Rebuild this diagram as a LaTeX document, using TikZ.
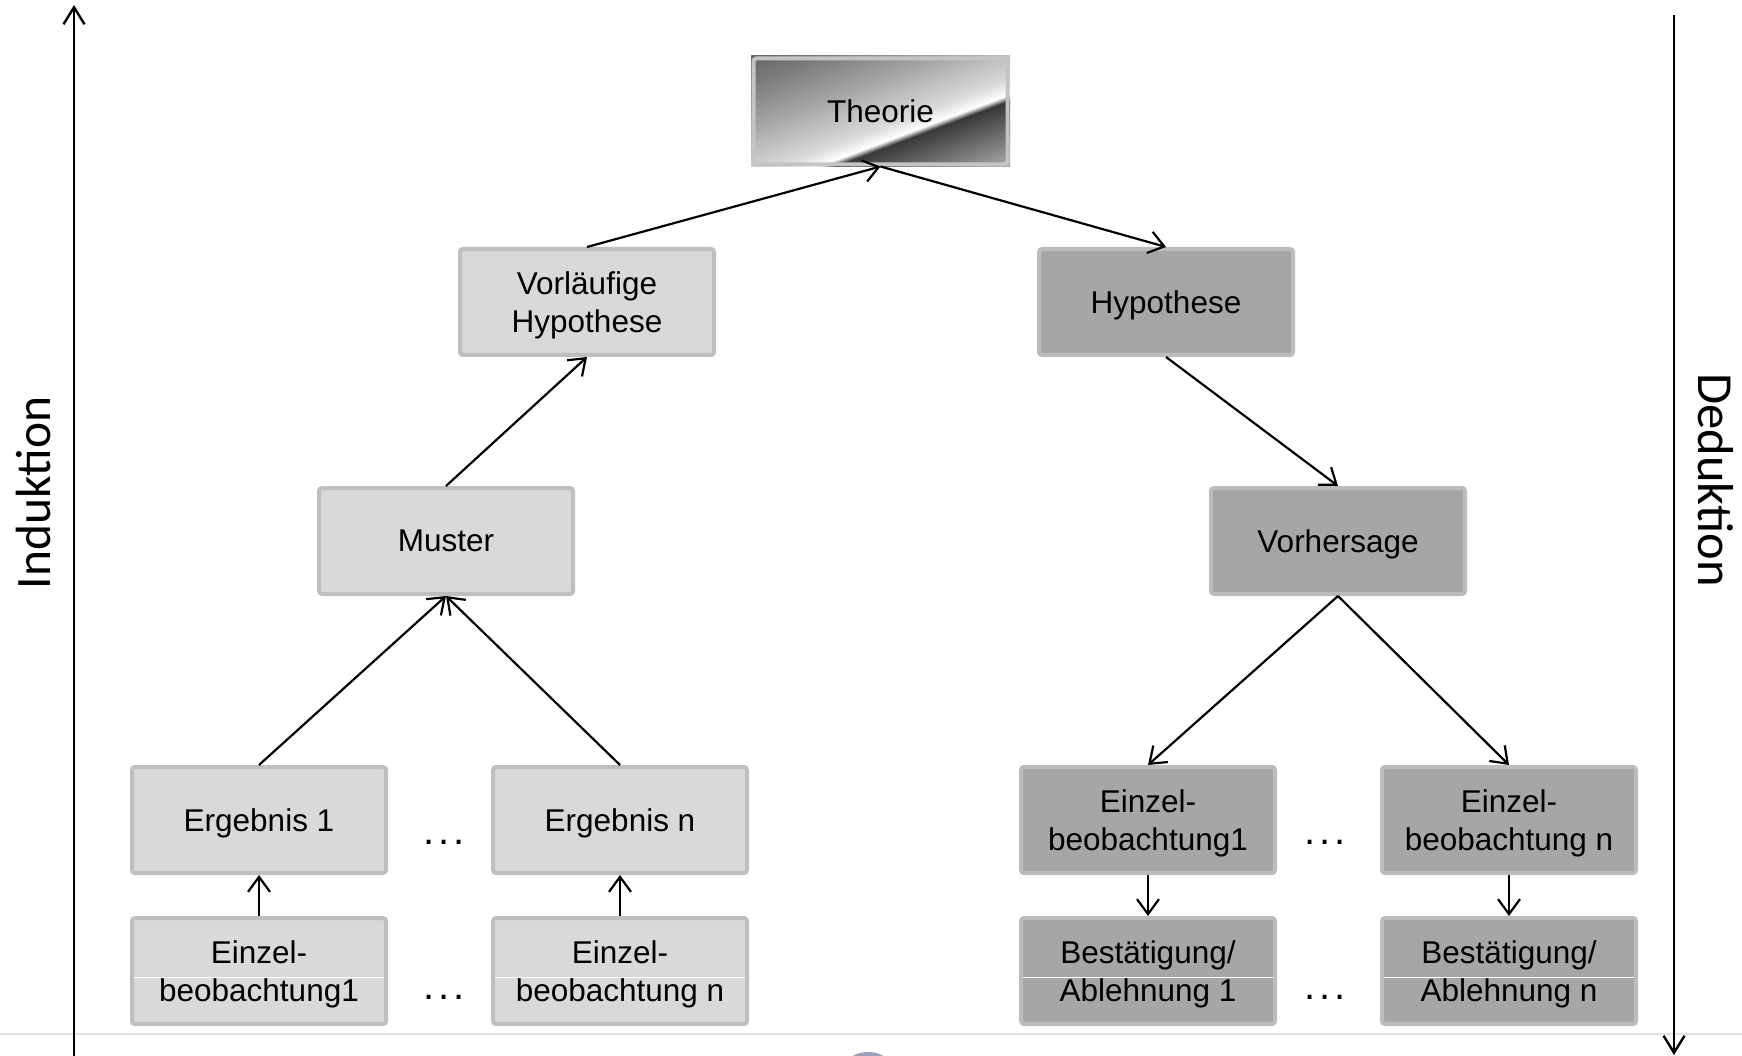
\documentclass[tikz,border=0pt]{standalone}
\usepackage{fontspec}
\setmainfont{Liberation Sans}
\newfontfamily\calib{Carlito}
\usetikzlibrary{arrows.meta}
\definecolor{lfill}{HTML}{D9D9D9}
\definecolor{lbord}{HTML}{BFBFBF}
\definecolor{dfill}{HTML}{A6A6A6}
\definecolor{dbord}{HTML}{BCBCBC}
\definecolor{tbord}{HTML}{C4C4C4}
\definecolor{sepline}{HTML}{E2E2EA}
\definecolor{logo}{HTML}{9AA0BC}
\pgfdeclarehorizontalshading{metal}{100bp}{%
  rgb(0bp)=(.38,.38,.38);
  rgb(25bp)=(.40,.40,.40);
  rgb(31bp)=(.47,.47,.47);
  rgb(43bp)=(.66,.66,.66);
  rgb(54bp)=(.86,.86,.86);
  rgb(57.5bp)=(1,1,1);
  rgb(59bp)=(.22,.22,.22);
  rgb(66bp)=(.42,.42,.42);
  rgb(75bp)=(.68,.68,.68);
  rgb(100bp)=(.68,.68,.68)}
\begin{document}
\begin{tikzpicture}[x=1pt,y=-1pt,
  box/.style={rectangle, rounded corners=3pt, line width=4pt,
    minimum width=254pt, minimum height=106pt, inner sep=0pt,
    align=center, text depth=0pt, font=\fontsize{31.5}{38.5}\selectfont},
  lbox/.style={box, draw=lbord, fill=lfill},
  dbox/.style={box, draw=dbord, fill=dfill},
  conn/.style={line width=2.2pt, -{Straight Barb[length=15pt,width=22pt]}},
  sidearrow/.style={line width=2.4pt, -{Straight Barb[length=17pt,width=21pt]}},
  sidelabel/.style={inner sep=0pt},
  dots/.style={font=\fontsize{40}{46}\selectfont, inner sep=0pt, anchor=base},
  midline/.style={white, line width=1pt}]
\useasboundingbox (0,0) rectangle (1742,1056);

% separator line and partial circle at bottom
\coordinate (sepL) at (0,1034);
\coordinate (sepR) at (1742,1034);
\draw[sepline, line width=2pt] (sepL) -- (sepR);
\begin{scope}
  \clip (0,0) rectangle (1742,1056);
  \fill[logo] (868,1084) circle (32pt);
\end{scope}

% side arrows and labels
\coordinate (indbot) at (74,1070);
\coordinate (indtop) at (74,5);
\coordinate (dedtop) at (1674,15);
\coordinate (dedbot) at (1674,1055);
\draw[sidearrow] (indbot) -- (indtop);
\draw[sidearrow] (dedtop) -- (dedbot);
\node[sidelabel, font=\calib\fontsize{49.5}{56}\selectfont, rotate=90] (ind) at (33,493) {Induktion};
\node[sidelabel, font=\calib\fontsize{50.5}{56}\selectfont, rotate=-90] (ded) at (1716,480) {Deduktion};

% metallic gradient of the Theorie box
\begin{scope}
  \clip (751,56) rectangle (1010,167);
  \begin{scope}[transform canvas={shift={(880.5,111.5)}, rotate=-69.4}]
    \shade[shading=metal] (-98,-142) rectangle (98,142);
  \end{scope}
\end{scope}

% boxes
\node[box, draw=tbord] (theo) at (880.5,111.5) {Theorie};
\node[lbox] (vh) at (587,302) {Vorläufige\\Hypothese};
\node[dbox] (hyp) at (1166,302) {Hypothese};
\node[lbox] (mus) at (446,541) {Muster};
\node[dbox] (vor) at (1338,541) {Vorhersage};
\node[lbox] (e1) at (259,820) {Ergebnis 1};
\node[lbox] (en) at (620,820) {Ergebnis n};
\node[lbox] (l1) at (259,971) {Einzel-\\beobachtung1};
\node[lbox] (ln) at (620,971) {Einzel-\\beobachtung n};
\node[dbox] (r1) at (1148,820) {Einzel-\\beobachtung1};
\node[dbox] (rn) at (1509,820) {Einzel-\\beobachtung n};
\node[dbox] (b1) at (1148,971) {Bestätigung/\\Ablehnung 1};
\node[dbox] (bn) at (1509,971) {Bestätigung/\\Ablehnung n};

% thin white lines inside the bottom boxes
\foreach \b in {l1,ln,b1,bn}{
  \draw[midline] ([xshift=4pt,yshift=-6pt]\b.west) -- ([xshift=-4pt,yshift=-6pt]\b.east);
}

% dots
\node[dots] (d1) at (444,844.5) {.\kern4pt.\kern4pt.};
\node[dots] (d2) at (444,999.5) {.\kern4pt.\kern4pt.};
\node[dots] (d3) at (1325,844.5) {.\kern4pt.\kern4pt.};
\node[dots] (d4) at (1325,999.5) {.\kern4pt.\kern4pt.};

% connectors
\draw[conn] (vh.north) -- (theo.south);
\draw[conn] (theo.south) -- (hyp.north);
\draw[conn] (mus.north) -- (vh.south);
\draw[conn] (hyp.south) -- (vor.north);
\draw[conn] (e1.north) -- (mus.south);
\draw[conn] (en.north) -- (mus.south);
\draw[conn] (vor.south) -- (r1.north);
\draw[conn] (vor.south) -- (rn.north);
\draw[conn] (l1.north) -- (e1.south);
\draw[conn] (ln.north) -- (en.south);
\draw[conn] (r1.south) -- (b1.north);
\draw[conn] (rn.south) -- (bn.north);
\end{tikzpicture}
\end{document}
